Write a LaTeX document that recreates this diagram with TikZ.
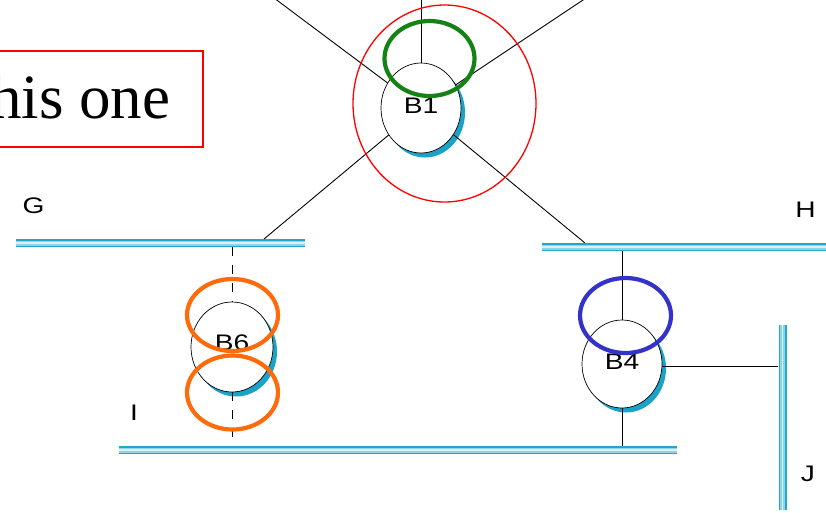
\documentclass[tikz,border=0pt]{standalone}
\usepackage{fontspec}
\usetikzlibrary{shapes.geometric,shadows}
\newfontfamily\labfont[FakeStretch=1.25]{Liberation Sans}
\newfontfamily\bigserif{Liberation Serif}
\definecolor{pipeD}{HTML}{22A6CB}
\definecolor{pipeM}{HTML}{8ED3E6}
\definecolor{pipeL}{HTML}{D8F1F7}
\definecolor{shadowc}{HTML}{1AA2C8}
\definecolor{grn}{HTML}{148214}
\definecolor{orng}{HTML}{FF6A0A}
\definecolor{blu}{HTML}{3333CC}
\tikzset{
  router/.style={ellipse, draw=black, line width=0.7pt, fill=white, inner sep=0pt,
    font=\labfont\fontsize{22.5}{22.5}\selectfont,
    drop shadow={shadow xshift=4pt, shadow yshift=-4.5pt, fill=shadowc, opacity=1}},
  wire/.style={draw=black, line width=0.9pt},
  dwire/.style={draw=black, line width=0.9pt, dash pattern=on 9pt off 9pt},
  pipe/.style={line width=8pt, draw=pipeD,
    postaction={draw=pipeM, line width=5pt},
    postaction={draw=pipeL, line width=1.8pt}},
  lab/.style={font=\labfont\fontsize{22.5}{22.5}\selectfont},
  hiring/.style={line width=4.2pt}
}
\begin{document}
\begin{tikzpicture}[x=1pt,y=-1pt]
\useasboundingbox (0,0) rectangle (826,512);
\clip (0,0) rectangle (826,512);
% routers
\node[router, minimum width=80pt, minimum height=90pt] (B1) at (421,108) {\raisebox{3.5pt}{B1}};
\node[router, minimum width=82pt, minimum height=90pt] (B6) at (232,347) {\raisebox{8.5pt}{B6}};
\node[router, minimum width=80pt, minimum height=88pt] (B4) at (622,364) {\raisebox{5pt}{B4}};
% coordinates
\coordinate (tL) at (274,-2);
\coordinate (tM) at (421,-2);
\coordinate (tR) at (586,-2);
\coordinate (gG) at (264,239);
\coordinate (hH) at (585,243);
\coordinate (g6) at (232,247);
\coordinate (i6) at (232,446);
\coordinate (h4) at (622,251);
\coordinate (i4) at (622,446);
\coordinate (j4) at (778,366);
% wires
\draw[wire] (tL) -- (B1);
\draw[wire] (tM) -- (B1);
\draw[wire] (tR) -- (B1);
\draw[wire] (B1) -- (gG);
\draw[wire] (B1) -- (hH);
\draw[dwire] (g6) -- (B6);
\draw[dwire] (B6) -- (i6);
\draw[wire] (h4) -- (B4);
\draw[wire] (B4) -- (i4);
\draw[wire] (B4.east |- j4) -- (j4);
% buses
\draw[pipe] (16,243) coordinate (G1) -- (305,243) coordinate (G2);
\draw[pipe] (542,247) coordinate (H1) -- (832,247) coordinate (H2);
\draw[pipe] (119,450) coordinate (I1) -- (677,450) coordinate (I2);
\draw[pipe] (782.5,325) coordinate (J1) -- (782.5,510) coordinate (J2);
% labels
\node[lab] (lG) at (33.5,205.5) {G};
\node[lab] (lH) at (805.5,209.5) {H};
\node[lab] (lI) at (134,413) {I};
\node[lab] (lJ) at (808,474) {J};
% highlight rings
\draw[red, line width=1.3pt] (444.5,103.5) ellipse [x radius=91.5, y radius=98.5];
\draw[grn, hiring] (429.5,58.5) ellipse [x radius=45, y radius=37.5];
\draw[orng, hiring] (232.5,315) ellipse [x radius=45.5, y radius=36];
\draw[orng, hiring] (232.5,392.5) ellipse [x radius=45.5, y radius=37];
\draw[blu, hiring] (625.5,315.5) ellipse [x radius=45.5, y radius=37.5];
% callout box
\node[font=\bigserif\fontsize{63}{63}\selectfont, anchor=base east, inner sep=0pt] (txt) at (170.5,118) {this one};
\draw[red, line width=1.5pt] (-5,51) rectangle (203,147);
\end{tikzpicture}
\end{document}
